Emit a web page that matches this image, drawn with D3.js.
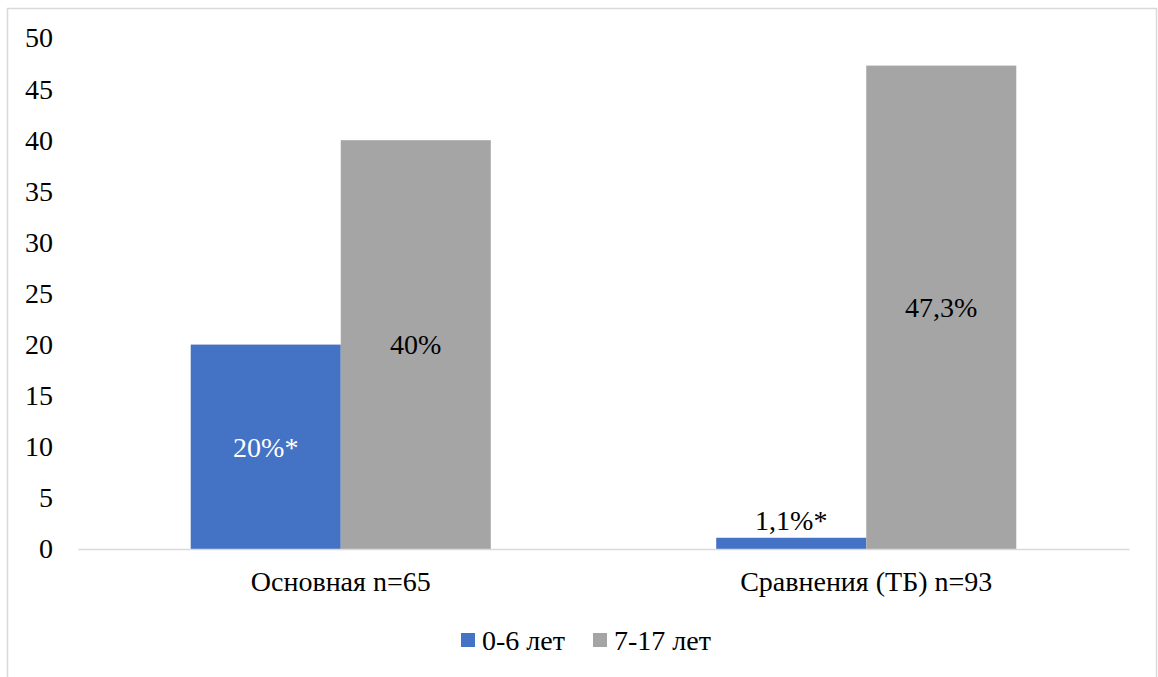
<!DOCTYPE html>
<html><head><meta charset="utf-8">
<script src="https://cdn.jsdelivr.net/npm/d3@7"></script>
<style>
html,body{margin:0;padding:0;background:#fff;}
svg{display:block;}
svg text{font-family:"Liberation Serif","Times New Roman",Tinos,"DejaVu Serif","Noto Serif",serif;}
</style></head>
<body>
<svg id="chart" width="1158" height="677"></svg>
<script>
const categories = ["Основная n=65", "Сравнения (ТБ) n=93"];
const seriesNames = ["0-6 лет", "7-17 лет"];
const seriesColors = ["#4472c4", "#a5a5a5"];
const values06 = [20, 1.1];
const values717 = [40, 47.3];
const labels06 = ["20%*", "1,1%*"];
const labels717 = ["40%", "47,3%"];
const yTicks = [0, 5, 10, 15, 20, 25, 30, 35, 40, 45, 50];

const svg = d3.select("#chart");
const fs = 28;

// frame
svg.append("rect").attr("x", 7.5).attr("y", 8.5).attr("width", 1149).attr("height", 700)
  .attr("fill", "none").attr("stroke", "#d9d9d9").attr("stroke-width", 1.5);

const x0 = d3.scaleBand().domain(categories).range([78, 1129]).paddingInner(0.429).paddingOuter(0.2145);
const x1 = d3.scaleBand().domain(seriesNames).range([0, x0.bandwidth()]);
const y = d3.scaleLinear().domain([0, 50]).range([549, 38]);

// y axis labels
const yAxis = d3.axisLeft(y).tickValues(yTicks).tickSize(0).tickPadding(0);
const gy = svg.append("g").attr("transform", "translate(53,0)").call(yAxis);
gy.attr("font-family", null).attr("font-size", null);
gy.select(".domain").remove();
gy.selectAll("text").attr("font-size", fs).attr("fill", "#000");

// bars
const rows = categories.map((c, i) => ({cat: c, vals: [
  {s: seriesNames[0], v: values06[i], lab: labels06[i], col: seriesColors[0], i: 0},
  {s: seriesNames[1], v: values717[i], lab: labels717[i], col: seriesColors[1], i: 1}
]}));

const g = svg.append("g").selectAll("g").data(rows).join("g")
  .attr("transform", d => `translate(${x0(d.cat)},0)`);
g.selectAll("rect").data(d => d.vals).join("rect")
  .attr("x", d => x1(d.s)).attr("width", x1.bandwidth())
  .attr("y", d => y(d.v)).attr("height", d => y(0) - y(d.v))
  .attr("fill", d => d.col);

g.selectAll("text").data(d => d.vals).join("text")
  .attr("x", d => x1(d.s) + x1.bandwidth() / 2)
  .attr("y", d => (y(0) - y(d.v) > 60) ? (y(d.v) + y(0)) / 2 : y(d.v) - 8)
  .attr("dy", d => (y(0) - y(d.v) > 60) ? "0.35em" : "0")
  .attr("text-anchor", "middle").attr("font-size", fs)
  .attr("fill", d => (d.i === 0 && y(0) - y(d.v) > 60) ? "#fff" : "#000")
  .text(d => d.lab);

// x axis
const xAxis = d3.axisBottom(x0).tickSize(0).tickPadding(22);
const gx = svg.append("g").attr("transform", "translate(0,549)").call(xAxis);
gx.attr("font-family", null).attr("font-size", null);
gx.select(".domain").attr("stroke", "#d9d9d9").attr("stroke-width", 1.5);
gx.selectAll("text").attr("font-size", fs).attr("fill", "#000");

// legend
const legX = [461, 593];
const leg = svg.append("g").selectAll("g").data(seriesNames).join("g")
  .attr("transform", (d, i) => `translate(${legX[i]},633)`);
leg.append("rect").attr("width", 14).attr("height", 14).attr("fill", (d, i) => seriesColors[i]);
leg.append("text").attr("x", 21).attr("y", 7).attr("dy", "0.35em")
  .attr("font-size", fs).attr("fill", "#000").text(d => d);
</script>
</body></html>
